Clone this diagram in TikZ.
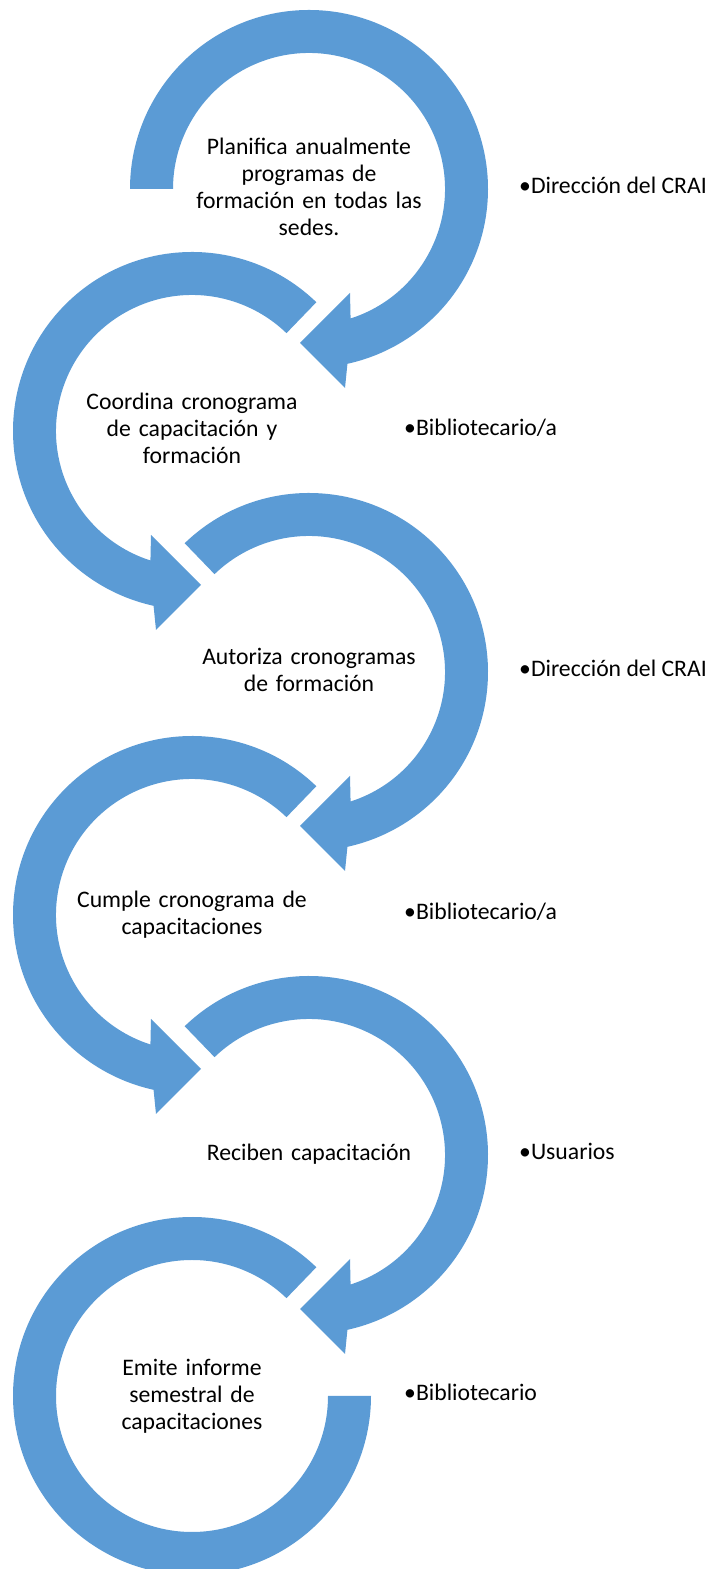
\documentclass[tikz,border=0pt]{standalone}
\usepackage{fontspec}
\setmainfont{Carlito}
\definecolor{arcblue}{HTML}{5B9BD5}
\tikzset{
  arcfill/.style={fill=arcblue},
  steptext/.style={anchor=base, align=center, text width=270pt, inner sep=0pt,
    font=\fontsize{23.7}{26.7}\selectfont},
  roletext/.style={anchor=base west, inner sep=0pt,
    font=\fontsize{23.7}{26.7}\selectfont},
}
% right-hand circle arrow (clockwise), #1 = start angle
\newcommand\rightcirc[1]{%
  (#1:179) arc[start angle=#1, end angle=-77.6, radius=179]
  -- (36,-199) -- (-9,-154) -- (41,-104)
  -- (-72.2:136) arc[start angle=-72.2, end angle=#1, radius=136] -- cycle}
% left-hand circle arrow (counter-clockwise), #1 = start angle
\newcommand\leftcirc[1]{%
  (#1:179) arc[start angle=#1, end angle=257.6, radius=179]
  -- (-36,-199) -- (9,-154) -- (-41,-104)
  -- (252.2:136) arc[start angle=252.2, end angle=#1, radius=136] -- cycle}
\begin{document}
\begin{tikzpicture}[x=1pt,y=1pt]
\useasboundingbox (0,0) rectangle (713,1569);
\coordinate (c1) at (309,1380);
\coordinate (c2) at (192,1138);
\coordinate (c3) at (309,897);
\coordinate (c4) at (192,654);
\coordinate (c5) at (309,414);
\coordinate (c6) at (192,173);

\fill[arcfill, shift={(c1)}] \rightcirc{180};
\fill[arcfill, shift={(c2)}] \leftcirc{46};
\fill[arcfill, shift={(c3)}] \rightcirc{134};
\fill[arcfill, shift={(c4)}] \leftcirc{46};
\fill[arcfill, shift={(c5)}] \rightcirc{134};
\fill[arcfill, shift={(c6)}] (46:179) arc[start angle=46, end angle=360, radius=179]
  -- (0:136) arc[start angle=360, end angle=46, radius=136] -- cycle;

\node[steptext] (s1) at (309,1414) {Planifica anualmente\\programas de\\formación en todas las\\sedes.};
\node[steptext] (s2) at (192,1159) {Coordina cronograma\\de capacitación y\\formación};
\node[steptext] (s3) at (309,904) {Autoriza cronogramas\\de formación};
\node[steptext] (s4) at (192,661) {Cumple cronograma de\\capacitaciones};
\node[steptext] (s5) at (309,408) {Reciben capacitación};
\node[steptext] (s6) at (192,193) {Emite informe\\semestral de\\capacitaciones};

\node[roletext] (r1) at (519,1375) {•Dirección del CRAI};
\node[roletext] (r2) at (404,1133) {•Bibliotecario/a};
\node[roletext] (r3) at (519,892) {•Dirección del CRAI};
\node[roletext] (r4) at (404,649) {•Bibliotecario/a};
\node[roletext] (r5) at (519,409) {•Usuarios};
\node[roletext] (r6) at (404,168) {•Bibliotecario};
\end{tikzpicture}
\end{document}
